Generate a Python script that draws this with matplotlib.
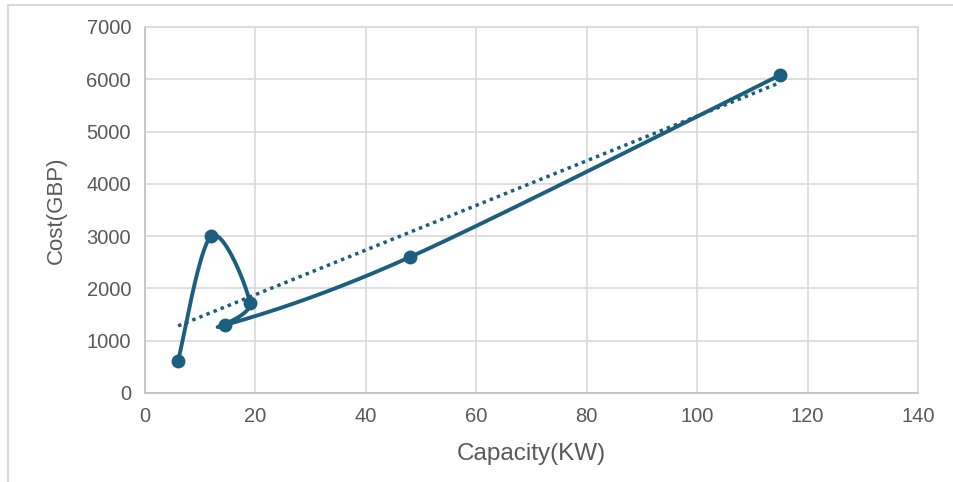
import numpy as np
import matplotlib
matplotlib.use("Agg")
import matplotlib.pyplot as plt
from matplotlib.lines import Line2D

plt.rcParams['font.family'] = ['Liberation Sans', 'DejaVu Sans']

capacity_kw = [6, 12, 19, 14.5, 48, 115]
cost_gbp = [620, 3000, 1720, 1300, 2600, 6080]

x_ticks = [0, 20, 40, 60, 80, 100, 120, 140]
y_ticks = [0, 1000, 2000, 3000, 4000, 5000, 6000, 7000]

line_color = '#1b5e7e'
text_color = '#595959'
grid_color = '#d9d9d9'


def smooth_curve(xs, ys, n=60):
    """Excel-like smoothed line (Catmull-Rom style Bezier)."""
    pts = np.column_stack([xs, ys]).astype(float)
    out = []
    m = len(pts)
    for i in range(m - 1):
        p0 = pts[i - 1] if i > 0 else pts[i]
        p1 = pts[i]
        p2 = pts[i + 1]
        p3 = pts[i + 2] if i + 2 < m else pts[i + 1]
        c1 = p1 + (p2 - p0) / 6.0
        c2 = p2 - (p3 - p1) / 6.0
        t = np.linspace(0, 1, n)[:, None]
        seg = ((1 - t) ** 3) * p1 + 3 * ((1 - t) ** 2) * t * c1 + 3 * (1 - t) * t ** 2 * c2 + t ** 3 * p2
        out.append(seg if i == 0 else seg[1:])
    c = np.vstack(out)
    return c[:, 0], c[:, 1]


fig = plt.figure(figsize=(9.54, 4.82), dpi=100)
ax = fig.add_axes([145 / 954, 1 - 393 / 482, (918 - 145) / 954, (393 - 27) / 482])

# smoothing in pixel space
sx = (918 - 145) / 140.0
sy = (393 - 27) / 7000.0
px = np.array(capacity_kw) * sx
py = np.array(cost_gbp) * sy
cx, cy = smooth_curve(px, py)
ax.plot(cx / sx, cy / sy, color=line_color, lw=2.8, solid_capstyle='round', zorder=3)
ax.scatter(capacity_kw, cost_gbp, s=100, color=line_color, zorder=4, linewidths=0)

# linear trendline
coef = np.polyfit(capacity_kw, cost_gbp, 1)
tx = np.array([min(capacity_kw), max(capacity_kw)])
ax.plot(tx, np.polyval(coef, tx), color=line_color, lw=2.5, ls=(0, (1, 1.2)), zorder=2)

ax.set_xlim(0, 140)
ax.set_ylim(0, 7000)
ax.set_xticks(x_ticks)
ax.set_yticks(y_ticks)
ax.grid(True, color=grid_color, lw=1.2)
ax.set_axisbelow(True)
for s in ['top', 'right']:
    ax.spines[s].set_color(grid_color)
    ax.spines[s].set_linewidth(1.2)
for s in ['left', 'bottom']:
    ax.spines[s].set_color('#bfbfbf')
    ax.spines[s].set_linewidth(1.2)
ax.tick_params(length=0, labelsize=14.5, labelcolor=text_color, pad=10)
ax.set_xlabel('Capacity(KW)', fontsize=17.5, color=text_color, labelpad=12)
ax.set_ylabel('Cost(GBP)', fontsize=16, color=text_color, labelpad=14)

# outer frame lines (top and left)
fig.add_artist(Line2D([8 / 954, 1], [1 - 5 / 482, 1 - 5 / 482], transform=fig.transFigure, color='#d9d9d9', lw=1.5))
fig.add_artist(Line2D([8 / 954, 8 / 954], [0, 1 - 5 / 482], transform=fig.transFigure, color='#d9d9d9', lw=1.5))

fig.savefig('out.png', dpi=100)
